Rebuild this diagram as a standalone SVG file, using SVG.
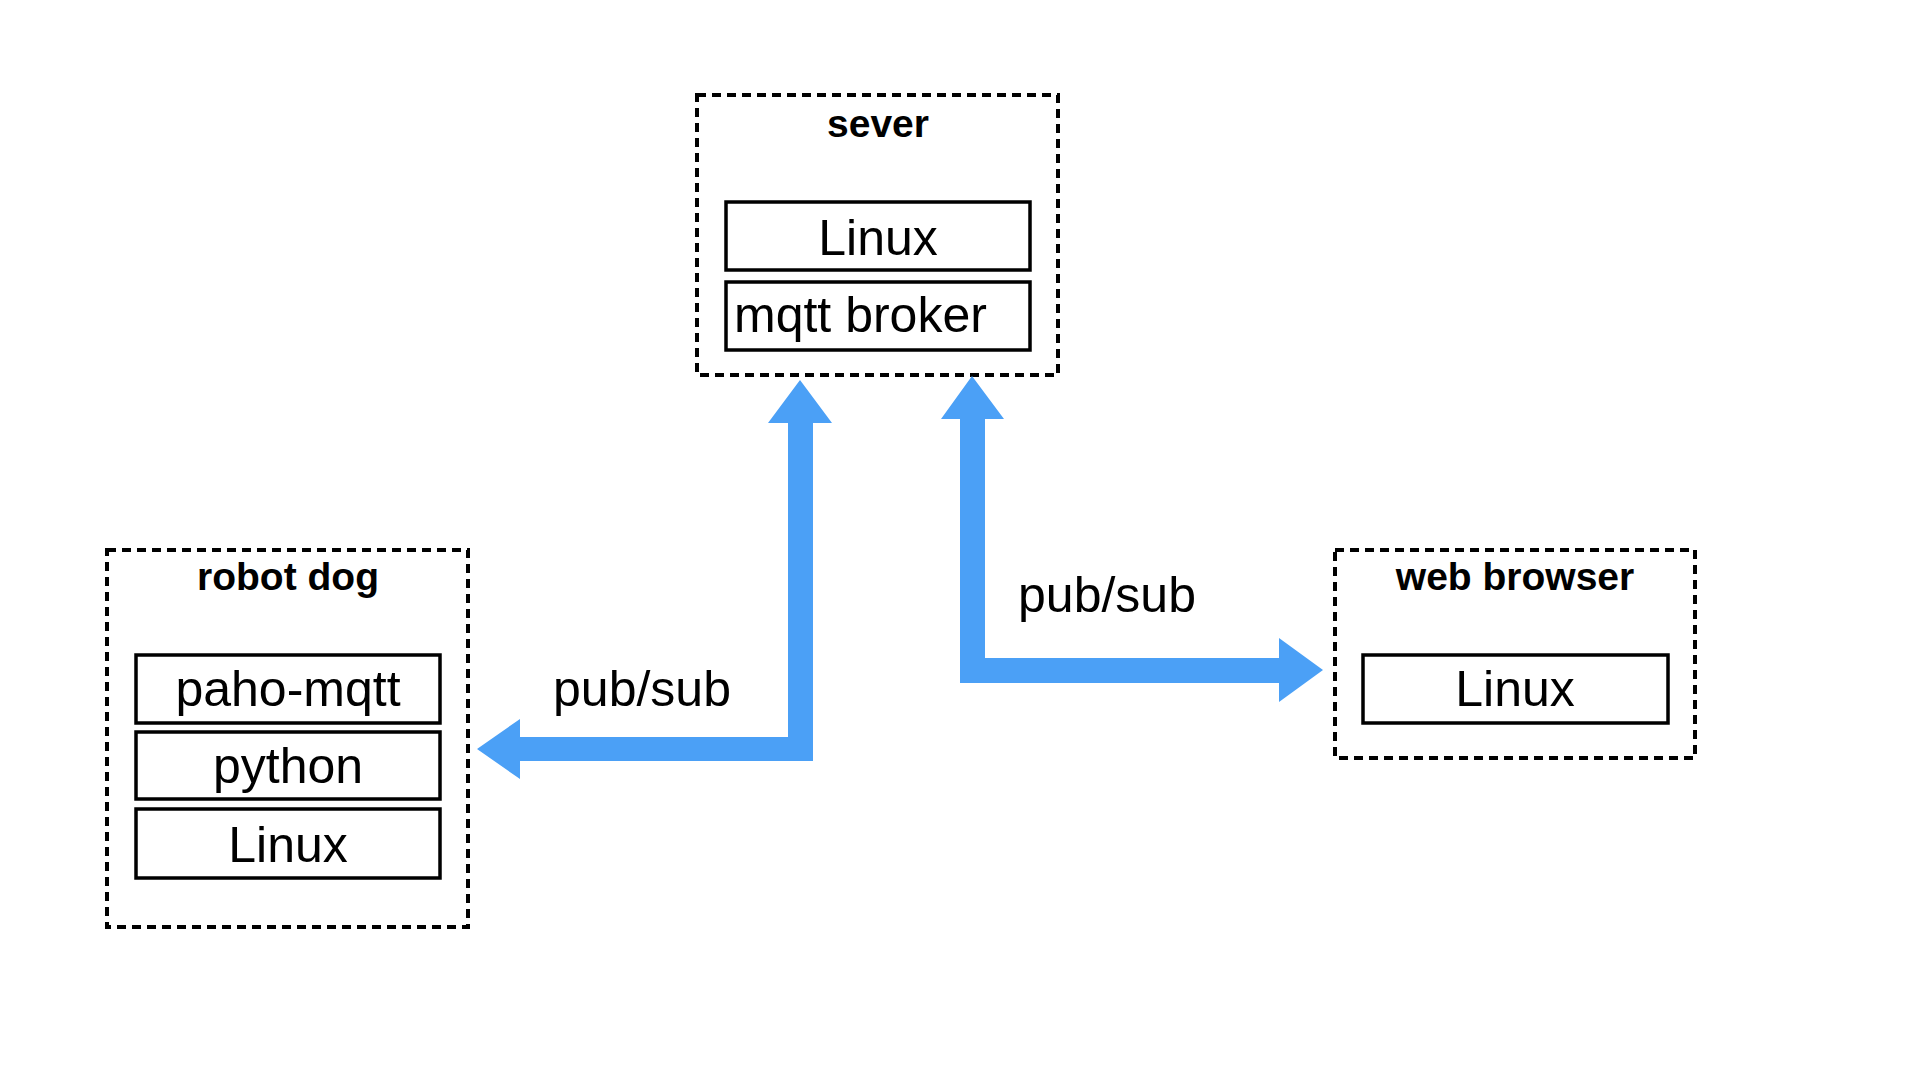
<svg xmlns="http://www.w3.org/2000/svg" width="1920" height="1080" viewBox="0 0 1920 1080">
<style>
.frame{fill:none;stroke:#000;stroke-width:4;stroke-dasharray:9 6}
.box{fill:#fff;stroke:#000;stroke-width:3.5}
.title{font-family:"Liberation Sans",Arial,sans-serif;font-weight:bold;font-size:39px;text-anchor:middle;fill:#000}
.lbl{font-family:"Liberation Sans",Arial,sans-serif;font-size:50px;text-anchor:middle;fill:#000}
.arrow{fill:#4BA0F6;stroke:none}
</style>
<rect width="1920" height="1080" fill="#fff"/>
<g id="server">
<rect class="frame" x="697" y="95" width="361" height="280"/>
<text class="title" x="878" y="137">sever</text>
<rect class="box" x="726" y="202" width="304" height="68"/>
<text class="lbl" x="878" y="255">Linux</text>
<rect class="box" x="726" y="282" width="304" height="68"/>
<text class="lbl" x="734" y="332" style="text-anchor:start">mqtt broker</text>
</g>
<g id="robot-dog">
<rect class="frame" x="107" y="550" width="361" height="377"/>
<text class="title" x="288" y="590">robot dog</text>
<rect class="box" x="136" y="655" width="304" height="68"/>
<text class="lbl" x="288" y="706">paho-mqtt</text>
<rect class="box" x="136" y="732" width="304" height="67"/>
<text class="lbl" x="288" y="783">python</text>
<rect class="box" x="136" y="809" width="304" height="69"/>
<text class="lbl" x="288" y="862">Linux</text>
</g>
<g id="web-browser">
<rect class="frame" x="1335" y="550" width="360" height="208"/>
<text class="title" x="1515" y="590">web browser</text>
<rect class="box" x="1363" y="655" width="305" height="68"/>
<text class="lbl" x="1515" y="706">Linux</text>
</g>
<g id="connectors">
<path class="arrow" d="M477,749 L520,719 L520,737 L788,737 L788,423 L768,423 L800,380 L832,423 L813,423 L813,761 L520,761 L520,779 Z"/>
<text class="lbl" x="642" y="706">pub/sub</text>
<path class="arrow" d="M972,376 L1004,419 L985,419 L985,658 L1279,658 L1279,638 L1323,670 L1279,702 L1279,683 L960,683 L960,419 L941,419 Z"/>
<text class="lbl" x="1107" y="612">pub/sub</text>
</g>
</svg>
